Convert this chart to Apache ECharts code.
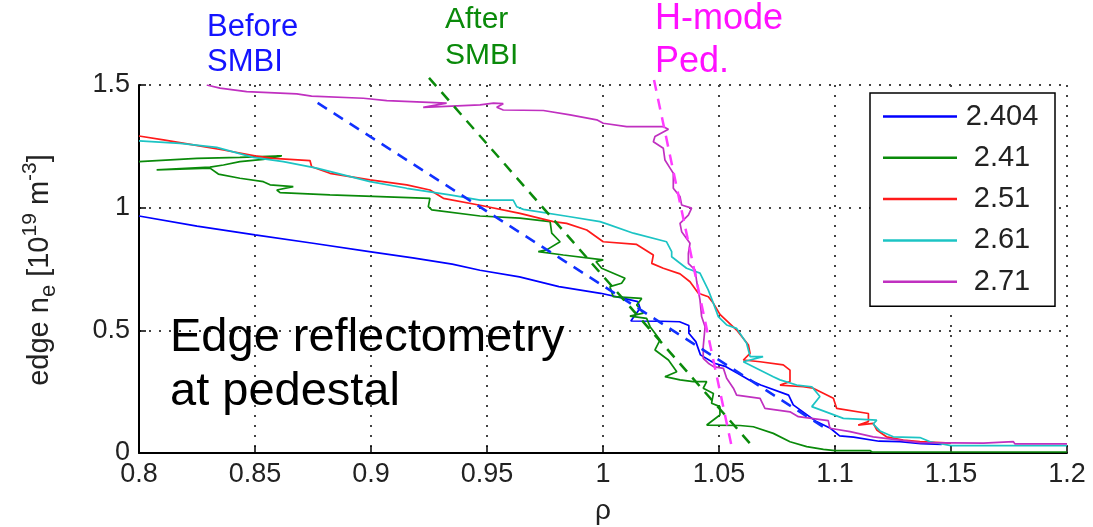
<!DOCTYPE html>
<html>
<head>
<meta charset="utf-8">
<script src="https://cdn.jsdelivr.net/npm/echarts@6.0.0/dist/echarts.min.js"></script>
<style>
html,body{margin:0;padding:0;background:#fff;}
#chart{width:1093px;height:527px;}
</style>
</head>
<body>
<div id="chart"></div>
<script>
// ---- data (rho, edge n_e) ----
const seriesNames = ['2.404', '2.41', '2.51', '2.61', '2.71'];
const xTickLabels = ['0.8','0.85','0.9','0.95','1','1.05','1.1','1.15','1.2'];
const yTickLabels = ['0','0.5','1','1.5'];

const ne2404 = [[0.800,0.966],[0.825,0.925],[0.850,0.889],[0.875,0.855],[0.900,0.820],[0.918,0.795],[0.935,0.770],[0.947,0.745],[0.964,0.718],[0.981,0.678],[0.999,0.651],[1.008,0.632],[1.015,0.617],[1.016,0.590],[1.012,0.538],[1.025,0.537],[1.033,0.535],[1.037,0.520],[1.037,0.488],[1.040,0.454],[1.042,0.400],[1.048,0.366],[1.053,0.352],[1.058,0.325],[1.063,0.298],[1.068,0.277],[1.080,0.236],[1.082,0.196],[1.092,0.128],[1.098,0.101],[1.102,0.070],[1.108,0.065],[1.119,0.048],[1.128,0.046],[1.137,0.038],[1.146,0.035]];

const ne241 = [[0.800,1.188],[0.825,1.201],[0.8435,1.205],[0.8615,1.211],[0.8536,1.197],[0.8435,1.188],[0.8364,1.174],[0.8306,1.165],[0.8076,1.154],[0.8306,1.161],[0.8342,1.137],[0.8435,1.120],[0.8536,1.106],[0.8565,1.093],[0.8665,1.086],[0.8594,1.072],[0.8608,1.061],[0.8823,1.052],[0.9039,1.045],[0.9254,1.038],[0.9247,1.004],[0.9262,0.991],[0.947,0.966],[0.9642,0.957],[0.9772,0.943],[0.9779,0.896],[0.9815,0.861],[0.9757,0.828],[0.9721,0.821],[0.9829,0.807],[1.0001,0.787],[0.997,0.780],[0.9994,0.753],[1.0095,0.712],[1.008,0.692],[1.003,0.678],[1.0044,0.637],[1.0167,0.630],[1.0145,0.603],[1.0174,0.570],[1.0116,0.558],[1.0188,0.549],[1.0203,0.515],[1.0246,0.461],[1.0224,0.420],[1.0282,0.379],[1.0318,0.331],[1.0267,0.311],[1.0332,0.298],[1.0389,0.291],[1.0447,0.291],[1.0432,0.264],[1.0476,0.243],[1.0468,0.203],[1.0504,0.189],[1.0504,0.155],[1.0447,0.114],[1.059,0.112],[1.0648,0.107],[1.0734,0.080],[1.0806,0.046],[1.0878,0.026],[1.095,0.015],[1.100,0.010],[1.115,0.010],[1.116,0.004],[1.200,0.004]];

const ne251 = [[0.800,1.292],[0.8105,1.276],[0.8234,1.256],[0.8364,1.235],[0.850,1.211],[0.8579,1.201],[0.8737,1.192],[0.8744,1.167],[0.8823,1.140],[0.8996,1.113],[0.9154,1.093],[0.9254,1.072],[0.9312,1.038],[0.947,1.010],[0.9642,0.977],[0.9786,0.943],[0.9843,0.936],[0.993,0.909],[1.0001,0.861],[1.0145,0.850],[1.0217,0.807],[1.021,0.773],[1.026,0.753],[1.0332,0.730],[1.0375,0.698],[1.0411,0.651],[1.0454,0.637],[1.0476,0.610],[1.0504,0.565],[1.0576,0.501],[1.0627,0.440],[1.0634,0.406],[1.0605,0.379],[1.0677,0.372],[1.0777,0.359],[1.0806,0.338],[1.0806,0.291],[1.0763,0.277],[1.0863,0.270],[1.0906,0.264],[1.0993,0.223],[1.1007,0.182],[1.1144,0.161],[1.1144,0.128],[1.110,0.114],[1.1165,0.121],[1.118,0.094],[1.1222,0.066],[1.1294,0.053],[1.1366,0.046],[1.150,0.040]];

const ne261 = [[0.800,1.272],[0.8177,1.262],[0.8335,1.246],[0.8493,1.205],[0.8622,1.188],[0.8766,1.161],[0.8996,1.106],[0.9154,1.079],[0.934,1.052],[0.947,1.031],[0.9613,1.031],[0.9628,1.004],[0.9657,0.993],[0.9858,0.963],[0.9987,0.943],[1.0016,0.934],[1.0131,0.896],[1.0274,0.861],[1.0296,0.821],[1.0296,0.800],[1.036,0.753],[1.0418,0.733],[1.0454,0.664],[1.0476,0.610],[1.0497,0.556],[1.0533,0.522],[1.0576,0.508],[1.0619,0.447],[1.0634,0.393],[1.0690,0.393],[1.0605,0.372],[1.0734,0.311],[1.0763,0.298],[1.0835,0.277],[1.090,0.270],[1.0935,0.230],[1.090,0.189],[1.1036,0.141],[1.118,0.134],[1.1165,0.118],[1.1194,0.090],[1.1251,0.066],[1.1366,0.063],[1.141,0.046],[1.150,0.030],[1.200,0.030]];

const ne271 = [[0.8292,1.500],[0.8349,1.487],[0.8464,1.473],[0.868,1.464],[0.8744,1.455],[0.8967,1.446],[0.9068,1.436],[0.9326,1.426],[0.9225,1.409],[0.947,1.419],[0.9528,1.426],[0.957,1.424],[0.9542,1.409],[0.957,1.398],[0.9743,1.396],[0.9858,1.378],[0.9973,1.358],[1.0001,1.344],[1.0102,1.330],[1.026,1.330],[1.0282,1.320],[1.0224,1.290],[1.0217,1.269],[1.026,1.242],[1.0267,1.194],[1.0289,1.161],[1.0303,1.140],[1.0303,1.079],[1.0332,1.045],[1.0339,1.011],[1.0382,0.998],[1.0368,0.970],[1.0332,0.936],[1.0339,0.902],[1.0375,0.855],[1.0368,0.814],[1.0368,0.773],[1.0397,0.746],[1.0404,0.698],[1.0418,0.624],[1.0425,0.556],[1.044,0.515],[1.0432,0.433],[1.0432,0.386],[1.0454,0.366],[1.0476,0.352],[1.0519,0.345],[1.0533,0.305],[1.0562,0.264],[1.0576,0.236],[1.0677,0.223],[1.0698,0.182],[1.0806,0.168],[1.0842,0.148],[1.0971,0.132],[1.0978,0.101],[1.1065,0.087],[1.1165,0.066],[1.1366,0.042],[1.164,0.040],[1.1647,0.046],[1.1769,0.046],[1.1776,0.037],[1.200,0.037]];

// dashed guide lines
const fitBefore = [[0.877,1.427],[1.097,0.094]];
const fitAfter  = [[0.925,1.529],[1.0655,0.016]];
const fitHmode  = [[1.0220,1.520],[1.0556,0.020]];

const FONT = '"Liberation Sans", Arial, Helvetica, sans-serif';
const colors = ['#0000ff', '#0a8a0a', '#ff1a1a', '#1cc4c4', '#c030c0'];
const dataSets = [ne2404, ne241, ne251, ne261, ne271];

const chart = echarts.init(document.getElementById('chart'), null, {renderer: 'canvas'});

const series = dataSets.map((d, i) => ({
  name: seriesNames[i], type: 'line', data: d,
  symbol: 'none', showSymbol: false, smooth: false,
  lineStyle: {color: colors[i], width: 1.7},
  itemStyle: {color: colors[i]},
  z: 2 + i, animation: false
}));
const fits = [[fitBefore, '#1030ff'], [fitAfter, '#0a8a0a'], [fitHmode, '#ff3cff']];
fits.forEach(([d, c], i) => series.push({
  name: 'fit' + i, type: 'line', data: d, symbol: 'none', showSymbol: false,
  clip: false,
  lineStyle: {color: c, width: 2.5, type: [11, 8]},
  itemStyle: {color: c}, z: 10, animation: false
}));

const option = {
  backgroundColor: '#fff',
  animation: false,
  grid: {left: 139, right: 26, top: 85, bottom: 74, outerBoundsMode: 'none'},
  xAxis: {
    type: 'value', min: 0.8, max: 1.2, interval: 0.05,
    axisLine: {show: true, onZero: false, lineStyle: {color: '#000', width: 2}},
    axisTick: {show: true, inside: true, length: 7, lineStyle: {color: '#000', width: 1.5}},
    axisLabel: {
      margin: 8, fontSize: 27, color: '#222', fontFamily: FONT,
      formatter: v => xTickLabels[Math.round((v - 0.8) / 0.05)]
    },
    splitLine: {show: true, lineStyle: {color: '#444', width: 2, type: [2, 8]}},
    name: 'ρ', nameLocation: 'middle', nameGap: 44,
    nameTextStyle: {fontSize: 28, color: '#222', fontFamily: FONT}
  },
  yAxis: {
    type: 'value', min: 0, max: 1.5, interval: 0.5,
    axisLine: {show: true, onZero: false, lineStyle: {color: '#000', width: 2}},
    axisTick: {show: true, inside: true, length: 7, lineStyle: {color: '#000', width: 1.5}},
    axisLabel: {
      margin: 9, fontSize: 27, color: '#222', fontFamily: FONT,
      formatter: v => yTickLabels[Math.round(v / 0.5)]
    },
    splitLine: {show: true, lineStyle: {color: '#444', width: 2, type: [2, 8]}}
  },
  legend: {
    data: seriesNames, orient: 'vertical', left: 870, top: 93,
    selectedMode: false, icon: 'rect',
    backgroundColor: '#fff', borderColor: '#000', borderWidth: 1.5, borderRadius: 0,
    padding: [9, 13, 10, 13], itemWidth: 74, itemHeight: 2.5, itemGap: 12.3,
    formatter: n => '{t|' + n + '}',
    textStyle: {
      rich: {t: {width: 80, align: 'center', fontSize: 29, lineHeight: 30, color: '#222', fontFamily: FONT}}
    }
  },
  graphic: [
    {type: 'text', left: 207, top: 10, z: 20, style: {text: 'Before\nSMBI', fontSize: 31, lineHeight: 35, fill: '#1414ff', fontFamily: FONT}},
    {type: 'text', left: 445, top: 2, z: 20, style: {text: 'After\nSMBI', fontSize: 30, lineHeight: 36, fill: '#0a8a0a', fontFamily: FONT}},
    {type: 'text', left: 655, top: -2, z: 20, style: {text: 'H-mode\nPed.', fontSize: 36, lineHeight: 43, fill: '#ff10ff', fontFamily: FONT}},
    {type: 'text', left: 170, top: 311, z: 20, style: {text: 'Edge reflectometry\nat pedestal', fontSize: 47, lineHeight: 54, fill: '#000', fontFamily: FONT}},
    {type: 'text', x: 40, y: 270, rotation: Math.PI / 2, z: 20,
      style: {
        text: '{m|edge n}{sub|e}{m| [10}{sup|19}{m| m}{sup|-3}{m|]}',
        align: 'center', verticalAlign: 'middle',
        rich: {
          m: {fontSize: 29, lineHeight: 40, fill: '#222', fontFamily: FONT},
          sub: {fontSize: 22, lineHeight: 20, verticalAlign: 'bottom', fill: '#222', fontFamily: FONT},
          sup: {fontSize: 21, lineHeight: 20, verticalAlign: 'top', fill: '#222', fontFamily: FONT}
        }
      }}
  ],
  series: series
};
chart.setOption(option);
</script>
</body>
</html>
